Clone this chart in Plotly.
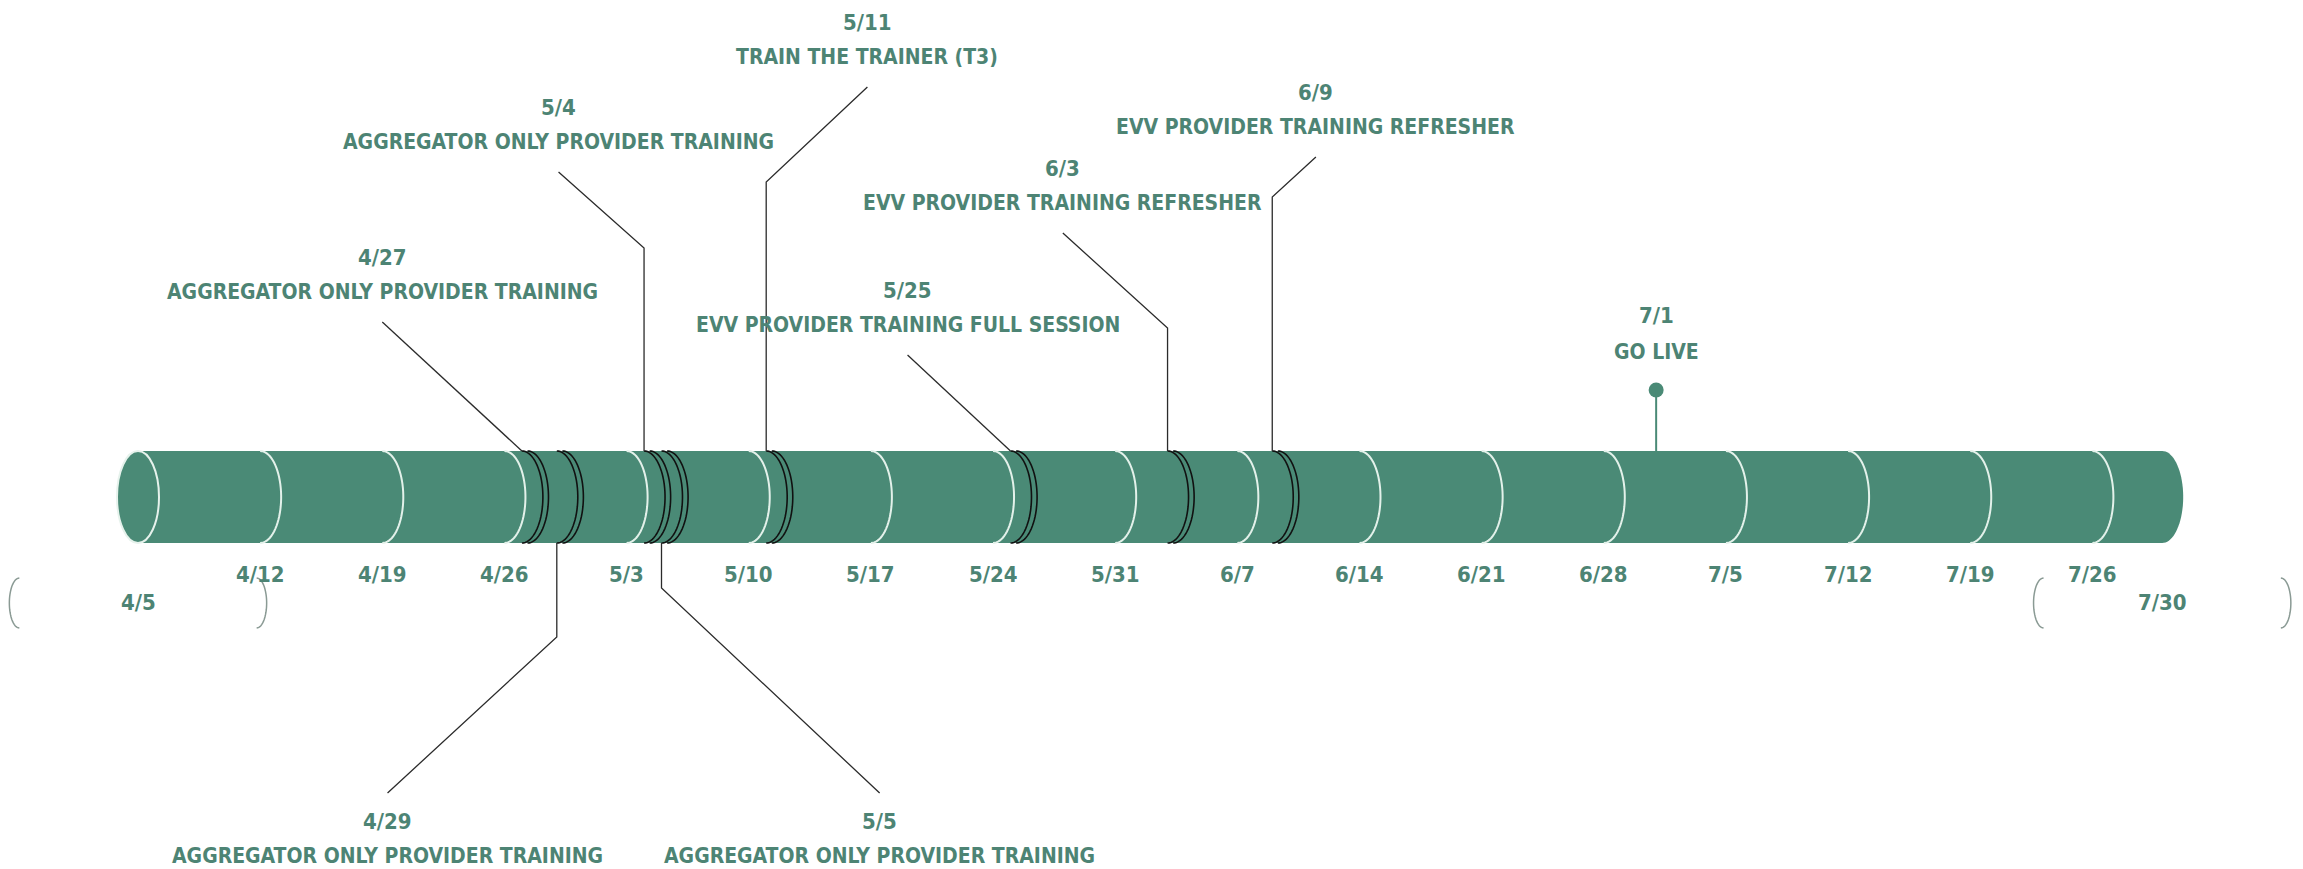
import numpy as np
import pandas as pd
import plotly.graph_objects as go

# ---------------- data ----------------
start_date = "2021-04-05"
end_date = "2021-07-30"
week_dates = ["2021-04-12", "2021-04-19", "2021-04-26", "2021-05-03", "2021-05-10",
              "2021-05-17", "2021-05-24", "2021-05-31", "2021-06-07", "2021-06-14",
              "2021-06-21", "2021-06-28", "2021-07-05", "2021-07-12", "2021-07-19",
              "2021-07-26"]
week_labels = ["4/12", "4/19", "4/26", "5/3", "5/10", "5/17", "5/24", "5/31", "6/7",
               "6/14", "6/21", "6/28", "7/5", "7/12", "7/19", "7/26"]
end_labels = ["4/5", "7/30"]

event_dates = ["2021-04-27", "2021-04-29", "2021-05-04", "2021-05-05", "2021-05-11",
               "2021-05-25", "2021-06-03", "2021-06-09"]
event_date_labels = ["4/27", "4/29", "5/4", "5/5", "5/11", "5/25", "6/3", "6/9"]
event_titles = ["AGGREGATOR ONLY PROVIDER TRAINING", "AGGREGATOR ONLY PROVIDER TRAINING",
                "AGGREGATOR ONLY PROVIDER TRAINING", "AGGREGATOR ONLY PROVIDER TRAINING",
                "TRAIN THE TRAINER (T3)", "EVV PROVIDER TRAINING FULL SESSION",
                "EVV PROVIDER TRAINING REFRESHER", "EVV PROVIDER TRAINING REFRESHER"]

milestone_date = "2021-07-01"
milestone_date_label = "7/1"
milestone_title = "GO LIVE"

# ---------------- layout / style (not data) ----------------
W, H = 2303, 869
PX_PER_DAY = 17.45
X0_PX = 138
CYL_TOP, CYL_BOT = 451, 543
CYL_MID = (CYL_TOP + CYL_BOT) / 2
RY = (CYL_BOT - CYL_TOP) / 2
RX = 21 / PX_PER_DAY
GREEN = "#4a8a76"
TEXT = "#4d8474"
LINE = "#2b2b2b"
FONT = "Liberation Sans Narrow, DejaVu Sans Condensed, Arial Narrow, sans-serif"
DATE_SIZE = 22
TITLE_SIZE = 21

# per event placement: (side, label dx in days, title line y px, elbow y px or None)
placement = [
    ("up", -8.0, 292, None),
    ("down", -9.7, 856, 637),
    ("up", -4.9, 142, 248),
    ("down", 12.5, 856, 588),
    ("up", 5.8, 57, 182),
    ("up", -5.9, 325, None),
    ("up", -6.0, 203, 328),
    ("up", 2.5, 127, 197),
]

t0 = pd.Timestamp(start_date)


def day(d):
    return (pd.Timestamp(d) - t0).days


x_end = day(end_date)


def half_ellipse(xc, direction=1, start_top=True, n=40):
    t = np.linspace(0, np.pi, n)
    if not start_top:
        t = t[::-1]
    xs = xc + direction * RX * np.sin(t)
    ys = CYL_MID - RY * np.cos(t)
    return list(zip(xs, ys))


def path_from(points, close=False):
    s = "M " + " L ".join(f"{x:.4f},{y:.3f}" for x, y in points)
    return s + (" Z" if close else "")


shapes = []
# cylinder body
body = [(0, CYL_TOP), (x_end, CYL_TOP)]
body += half_ellipse(x_end, 1, True)
body += [(0, CYL_BOT)]
body += half_ellipse(0, -1, False)
shapes.append(dict(type="path", path=path_from(body, True), fillcolor=GREEN,
                   line=dict(width=0), layer="below"))
# left face
shapes.append(dict(type="circle", x0=-RX, x1=RX, y0=CYL_TOP, y1=CYL_BOT,
                   line=dict(color="#e6f2ec", width=2), fillcolor=GREEN, layer="below"))
# weekly rings
for d in week_dates:
    shapes.append(dict(type="path", path=path_from(half_ellipse(day(d))),
                       line=dict(color="#e3f1ea", width=2)))
# event rings (double black)
for d in event_dates:
    for off in (0.0, 0.32):
        shapes.append(dict(type="path", path=path_from(half_ellipse(day(d) + off)),
                           line=dict(color="#111111", width=1.6)))

annotations = []


def add_text(x, y, text, size):
    annotations.append(dict(x=x, y=y, xref="x", yref="y", text=text, showarrow=False,
                            font=dict(family=FONT, size=size, color=TEXT, weight="bold"),
                            xanchor="center", yanchor="middle"))


# week labels
for d, lab in zip(week_dates, week_labels):
    add_text(day(d), 574, lab, DATE_SIZE)
# end labels with brackets
for d, lab in zip([start_date, end_date], end_labels):
    xc = day(d)
    add_text(xc, 602, lab, DATE_SIZE)
    for side in (-1, 1):
        xb = xc + side * 6.8
        t = np.linspace(-np.pi / 2, np.pi / 2, 30)
        pts = [(xb + side * (10 / PX_PER_DAY) * np.cos(tt), 603 + 25 * np.sin(tt)) for tt in t]
        shapes.append(dict(type="path", path=path_from(pts), line=dict(color="#8a9a94", width=1.5)))

# events
for d, dl, title, (side, dx, ty, elbow) in zip(event_dates, event_date_labels, event_titles, placement):
    xe = day(d)
    xl = xe + dx
    dy_date = ty - 35
    if side == "up":
        pts = [(xe, CYL_TOP)]
        if elbow is not None:
            pts.append((xe, elbow))
        pts.append((xl, ty + 30))
    else:
        pts = [(xe, CYL_BOT)]
        if elbow is not None:
            pts.append((xe, elbow))
        pts.append((xl, dy_date - 28))
    shapes.append(dict(type="path", path=path_from(pts), line=dict(color=LINE, width=1.3)))
    add_text(xl, dy_date, dl, DATE_SIZE)
    add_text(xl, ty, title, TITLE_SIZE)

# milestone
xm = day(milestone_date)
shapes.append(dict(type="line", x0=xm, x1=xm, y0=CYL_TOP, y1=390,
                   line=dict(color=GREEN, width=2)))
add_text(xm, 315, milestone_date_label, DATE_SIZE)
add_text(xm, 352, milestone_title, TITLE_SIZE)

fig = go.Figure()
fig.add_trace(go.Scatter(x=[xm], y=[390], mode="markers",
                         marker=dict(size=15, color=GREEN), hoverinfo="skip",
                         showlegend=False))

fig.update_layout(
    width=W, height=H,
    margin=dict(l=0, r=0, t=0, b=0),
    paper_bgcolor="white", plot_bgcolor="white",
    xaxis=dict(range=[-X0_PX / PX_PER_DAY, (W - X0_PX) / PX_PER_DAY], visible=False, fixedrange=True),
    yaxis=dict(range=[H, 0], visible=False, fixedrange=True),
    shapes=shapes, annotations=annotations, showlegend=False,
)

fig.write_html("out.html", config=dict(displayModeBar=False),
               post_script="document.body.style.margin='0px';document.body.style.overflow='hidden';")
